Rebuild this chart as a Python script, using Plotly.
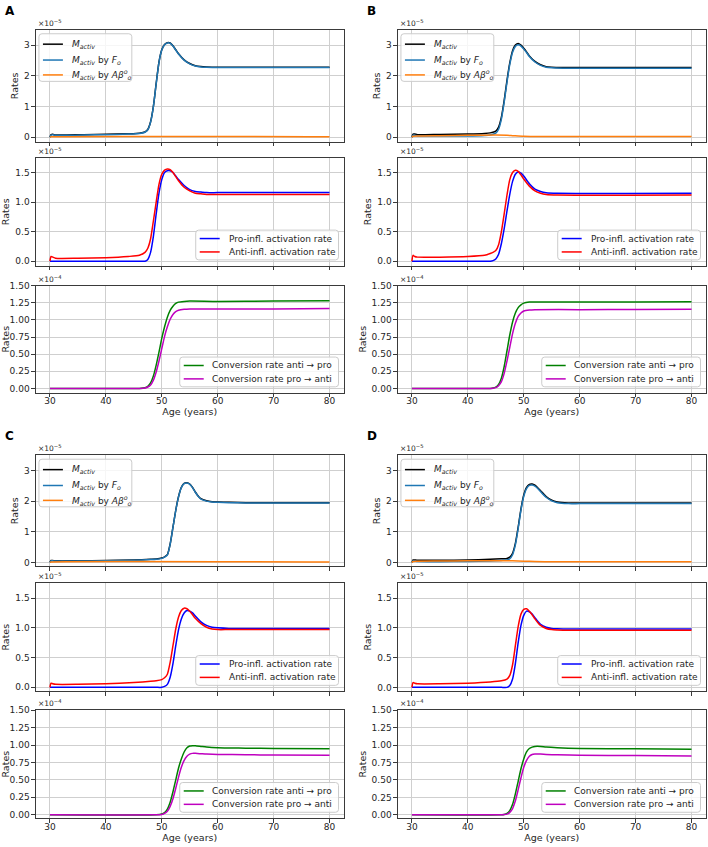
import plotly.graph_objects as go

# ---------------- data (rates in units of 1e-5 for rows 1-2, 1e-4 for row 3) ----------------
AGE_TICKS = [30, 40, 50, 60, 70, 80]

# Panel A
A_t1 = [30, 30.2, 30.5, 31, 33, 36, 40, 44, 46, 47, 47.5, 48, 48.5, 49, 49.5, 50, 50.5, 51, 51.5, 52, 52.5, 53, 54, 55, 56, 57, 58, 60, 65, 70, 80]
A_mact = [0.0, 0.08, 0.09, 0.07, 0.07, 0.08, 0.09, 0.11, 0.13, 0.17, 0.25, 0.5, 1.0, 1.75, 2.45, 2.85, 3.02, 3.08, 3.07, 2.98, 2.85, 2.72, 2.52, 2.40, 2.33, 2.30, 2.29, 2.28, 2.28, 2.28, 2.28]
A_mfo = [0.0, 0.07, 0.08, 0.06, 0.06, 0.07, 0.08, 0.10, 0.12, 0.16, 0.24, 0.49, 0.99, 1.74, 2.44, 2.84, 3.01, 3.07, 3.06, 2.97, 2.84, 2.71, 2.51, 2.39, 2.32, 2.29, 2.28, 2.27, 2.27, 2.27, 2.27]
A_tab = [30, 30.2, 80]
A_mab = [0.0, 0.01, 0.01]
A_t2 = [30, 30.2, 30.5, 31, 35, 40, 44, 46, 47, 47.5, 48, 48.5, 49, 49.5, 50, 50.5, 51, 51.5, 52, 52.5, 53, 54, 55, 56, 57, 58, 60, 80]
A_pro = [0, 0, 0, 0, 0, 0, 0, 0, 0.0, 0.03, 0.15, 0.42, 0.8, 1.15, 1.38, 1.5, 1.53, 1.53, 1.5, 1.44, 1.38, 1.28, 1.21, 1.18, 1.17, 1.16, 1.16, 1.16]
A_anti = [0.0, 0.08, 0.07, 0.05, 0.05, 0.06, 0.08, 0.1, 0.15, 0.22, 0.38, 0.68, 1.0, 1.3, 1.47, 1.54, 1.56, 1.55, 1.5, 1.43, 1.36, 1.25, 1.19, 1.15, 1.14, 1.13, 1.13, 1.13]
A_t3 = [30, 46, 47, 47.5, 48, 48.5, 49, 49.5, 50, 50.5, 51, 51.5, 52, 52.5, 53, 54, 55, 60, 70, 80]
A_a2p = [0, 0, 0.01, 0.03, 0.08, 0.18, 0.34, 0.53, 0.73, 0.9, 1.04, 1.14, 1.2, 1.24, 1.26, 1.27, 1.275, 1.27, 1.275, 1.28]
A_p2a = [0, 0, 0.005, 0.02, 0.05, 0.12, 0.24, 0.4, 0.58, 0.76, 0.9, 1.01, 1.08, 1.12, 1.14, 1.155, 1.16, 1.16, 1.16, 1.165]

# Panel B
B_t1 = [30, 30.2, 30.5, 31, 35, 40, 43, 44, 45, 45.5, 46, 46.5, 47, 47.5, 48, 48.5, 49, 49.5, 50, 50.5, 51, 52, 53, 54, 55, 57, 60, 70, 80]
B_mact = [0, 0.1, 0.1, 0.08, 0.09, 0.1, 0.12, 0.14, 0.2, 0.33, 0.65, 1.2, 1.85, 2.42, 2.82, 3.0, 3.05, 3.0, 2.9, 2.78, 2.65, 2.47, 2.36, 2.3, 2.28, 2.27, 2.27, 2.27, 2.27]
B_mfo = [0, 0.07, 0.065, 0.04, 0.04, 0.04, 0.055, 0.07, 0.13, 0.26, 0.59, 1.14, 1.79, 2.37, 2.77, 2.96, 3.01, 2.97, 2.87, 2.76, 2.63, 2.45, 2.34, 2.28, 2.26, 2.25, 2.25, 2.25, 2.25]
B_tab = [30, 30.2, 31, 35, 40, 45, 47, 48, 50, 55, 80]
B_mab = [0, 0.03, 0.04, 0.05, 0.06, 0.07, 0.06, 0.05, 0.03, 0.02, 0.02]
B_t2 = [30, 30.2, 30.5, 31, 35, 40, 43, 44, 44.5, 45, 45.5, 46, 46.5, 47, 47.5, 48, 48.5, 49, 49.5, 50, 51, 52, 53, 54, 56, 80]
B_pro = [0, 0, 0, 0, 0, 0, 0, 0, 0.01, 0.04, 0.12, 0.3, 0.55, 0.85, 1.13, 1.35, 1.47, 1.51, 1.49, 1.44, 1.31, 1.22, 1.18, 1.16, 1.15, 1.15]
B_anti = [0, 0.1, 0.08, 0.07, 0.07, 0.08, 0.1, 0.13, 0.15, 0.18, 0.28, 0.5, 0.8, 1.12, 1.38, 1.5, 1.54, 1.52, 1.46, 1.39, 1.27, 1.19, 1.15, 1.13, 1.12, 1.12]
B_t3 = [30, 44, 44.5, 45, 45.5, 46, 46.5, 47, 47.5, 48, 48.5, 49, 49.5, 50, 51, 52, 60, 70, 80]
B_a2p = [0, 0, 0.005, 0.02, 0.06, 0.15, 0.32, 0.55, 0.78, 0.97, 1.1, 1.18, 1.22, 1.245, 1.26, 1.262, 1.26, 1.262, 1.265]
B_p2a = [0, 0, 0.003, 0.012, 0.04, 0.1, 0.22, 0.4, 0.6, 0.8, 0.95, 1.05, 1.1, 1.13, 1.145, 1.15, 1.15, 1.152, 1.155]

# Panel C
C_t1 = [30, 30.2, 30.5, 31, 35, 40, 45, 48, 49, 50, 50.5, 51, 51.5, 52, 52.5, 53, 53.5, 54, 54.5, 55, 55.5, 56, 56.5, 57, 58, 59, 60, 62, 65, 70, 80]
C_mact = [0, 0.06, 0.06, 0.05, 0.05, 0.06, 0.08, 0.1, 0.11, 0.14, 0.18, 0.25, 0.6, 1.15, 1.7, 2.15, 2.45, 2.58, 2.6, 2.56, 2.45, 2.3, 2.17, 2.08, 2.01, 1.98, 1.97, 1.96, 1.95, 1.95, 1.95]
C_mfo = [0, 0.05, 0.05, 0.04, 0.04, 0.05, 0.07, 0.09, 0.1, 0.13, 0.17, 0.24, 0.59, 1.14, 1.69, 2.14, 2.44, 2.57, 2.59, 2.55, 2.44, 2.29, 2.16, 2.07, 2.0, 1.97, 1.96, 1.95, 1.94, 1.94, 1.94]
C_tab = [30, 30.2, 80]
C_mab = [0.0, 0.01, 0.01]
C_t2 = [30, 30.2, 30.5, 31, 35, 40, 45, 48, 49, 50, 50.5, 51, 51.5, 52, 52.5, 53, 53.5, 54, 54.5, 55, 55.5, 56, 57, 58, 59, 60, 62, 80]
C_pro = [0, 0, 0, 0, 0, 0, 0, 0, 0, 0.0, 0.015, 0.05, 0.17, 0.4, 0.7, 0.97, 1.15, 1.25, 1.29, 1.28, 1.25, 1.2, 1.1, 1.04, 1.01, 1.0, 0.99, 0.99]
C_anti = [0, 0.07, 0.06, 0.05, 0.05, 0.06, 0.08, 0.1, 0.11, 0.13, 0.16, 0.22, 0.42, 0.7, 0.98, 1.18, 1.29, 1.33, 1.32, 1.28, 1.22, 1.16, 1.07, 1.01, 0.98, 0.97, 0.97, 0.97]
C_t3 = [30, 49, 50, 50.5, 51, 51.5, 52, 52.5, 53, 53.5, 54, 54.5, 55, 55.5, 56, 57, 58, 60, 65, 70, 80]
C_a2p = [0, 0, 0.01, 0.03, 0.08, 0.18, 0.33, 0.5, 0.67, 0.8, 0.9, 0.96, 0.985, 0.99, 0.99, 0.98, 0.97, 0.96, 0.955, 0.95, 0.948]
C_p2a = [0, 0, 0.005, 0.02, 0.05, 0.12, 0.23, 0.38, 0.54, 0.68, 0.78, 0.84, 0.87, 0.88, 0.88, 0.875, 0.87, 0.865, 0.86, 0.857, 0.852]

# Panel D
D_t1 = [30, 30.2, 30.5, 31, 35, 40, 44, 46, 47, 47.5, 48, 48.5, 49, 49.5, 50, 50.5, 51, 51.5, 52, 52.5, 53, 54, 55, 56, 58, 60, 80]
D_mact = [0, 0.08, 0.08, 0.07, 0.07, 0.08, 0.1, 0.12, 0.13, 0.17, 0.3, 0.62, 1.15, 1.75, 2.2, 2.45, 2.55, 2.56, 2.52, 2.44, 2.34, 2.15, 2.03, 1.97, 1.94, 1.94, 1.94]
D_mfo = [0, 0.05, 0.045, 0.03, 0.025, 0.03, 0.046, 0.065, 0.077, 0.118, 0.25, 0.572, 1.105, 1.707, 2.16, 2.413, 2.515, 2.528, 2.49, 2.412, 2.313, 2.127, 2.01, 1.95, 1.92, 1.92, 1.92]
D_tab = [30, 30.2, 31, 35, 40, 45, 48, 50, 52, 55, 80]
D_mab = [0, 0.03, 0.04, 0.045, 0.05, 0.055, 0.05, 0.04, 0.03, 0.02, 0.02]
D_t2 = [30, 30.2, 30.5, 31, 35, 40, 44, 46, 47, 47.5, 48, 48.5, 49, 49.5, 50, 50.5, 51, 51.5, 52, 52.5, 53, 54, 55, 56, 58, 80]
D_pro = [0, 0, 0, 0, 0, 0, 0, 0, 0.0, 0.03, 0.14, 0.4, 0.75, 1.04, 1.21, 1.28, 1.27, 1.23, 1.17, 1.11, 1.06, 1.01, 0.99, 0.985, 0.98, 0.98]
D_anti = [0, 0.08, 0.07, 0.06, 0.06, 0.07, 0.09, 0.11, 0.14, 0.2, 0.38, 0.7, 1.02, 1.23, 1.31, 1.32, 1.28, 1.22, 1.15, 1.09, 1.04, 0.99, 0.97, 0.965, 0.96, 0.96]
D_t3 = [30, 46, 46.5, 47, 47.5, 48, 48.5, 49, 49.5, 50, 50.5, 51, 51.5, 52, 53, 54, 56, 60, 70, 80]
D_a2p = [0, 0, 0.005, 0.02, 0.06, 0.15, 0.3, 0.48, 0.66, 0.8, 0.9, 0.95, 0.97, 0.98, 0.98, 0.97, 0.96, 0.95, 0.945, 0.94]
D_p2a = [0, 0, 0.003, 0.01, 0.035, 0.09, 0.2, 0.36, 0.53, 0.68, 0.78, 0.84, 0.865, 0.87, 0.87, 0.865, 0.86, 0.855, 0.848, 0.843]

NAMES_1 = ["<i>M</i><sub><i>activ</i></sub>",
           "<i>M</i><sub><i>activ</i></sub> by <i>F</i><sub><i>o</i></sub>",
           "<i>M</i><sub><i>activ</i></sub> by <i>Aβ</i><sup><i>o</i></sup><sub><i>o</i></sub>"]
NAMES_2 = ["Pro-infl. activation rate", "Anti-infl. activation rate"]
NAMES_3 = ["Conversion rate anti → pro", "Conversion rate pro → anti"]

# ---------------- layout geometry (pixels) ----------------
W, H = 708, 847
FONT = "DejaVu Sans"
TXT = "#262626"
COLX = {"L": (35.0, 343.0), "R": (397.5, 705.5)}
ROWY = {"top": [(25, 138), (154, 263), (283, 391)],
        "bot": [(454, 566), (583, 692), (711, 820)]}

# legend geometry per row: (box width, box height, entry offsets, line start, line end, text start)
LEG = {0: dict(w=93, h=48, dy=[10.5, 26.5, 41.5], l0=4, l1=24, tx=31),
       1: dict(w=143, h=30, dy=[8.5, 22.0], l0=4, l1=24, tx=31),
       2: dict(w=159, h=30, dy=[8.5, 22.0], l0=4, l1=24, tx=30)}

panels = [
    ("A", "L", "top", (A_t1, A_mact, A_mfo, A_tab, A_mab), (A_t2, A_pro, A_anti), (A_t3, A_a2p, A_p2a)),
    ("B", "R", "top", (B_t1, B_mact, B_mfo, B_tab, B_mab), (B_t2, B_pro, B_anti), (B_t3, B_a2p, B_p2a)),
    ("C", "L", "bot", (C_t1, C_mact, C_mfo, C_tab, C_mab), (C_t2, C_pro, C_anti), (C_t3, C_a2p, C_p2a)),
    ("D", "R", "bot", (D_t1, D_mact, D_mfo, D_tab, D_mab), (D_t2, D_pro, D_anti), (D_t3, D_a2p, D_p2a)),
]


def px(x):
    return x / W


def py(y):
    return 1 - y / H


def rounded_box(x0, y0, x1, y1, r=3):
    pts = [
        "M %f,%f" % (px(x0 + r), py(y0)),
        "L %f,%f" % (px(x1 - r), py(y0)),
        "Q %f,%f %f,%f" % (px(x1), py(y0), px(x1), py(y0 + r)),
        "L %f,%f" % (px(x1), py(y1 - r)),
        "Q %f,%f %f,%f" % (px(x1), py(y1), px(x1 - r), py(y1)),
        "L %f,%f" % (px(x0 + r), py(y1)),
        "Q %f,%f %f,%f" % (px(x0), py(y1), px(x0), py(y1 - r)),
        "L %f,%f" % (px(x0), py(y0 + r)),
        "Q %f,%f %f,%f" % (px(x0), py(y0), px(x0 + r), py(y0)),
        "Z",
    ]
    return " ".join(pts)


fig = go.Figure()
annotations = []
shapes = []
layout = {}
n = 0
LW = 1.5

for letter, col, rowset, r1, r2, r3 in panels:
    x0, x1 = COLX[col]
    xdom = [px(x0), px(x1)]
    annotations.append(dict(text="<b>%s</b>" % letter, x=px(x0 - 33), y=py(ROWY[rowset][0][0] - 19),
                            xref="paper", yref="paper", xanchor="left", yanchor="middle",
                            showarrow=False, font=dict(size=12, family=FONT, color="black")))
    for r in range(3):
        n += 1
        top_px, bot_px = ROWY[rowset][r]
        ydom = [py(bot_px), py(top_px)]
        xa = "x" if n == 1 else "x%d" % n
        ya = "y" if n == 1 else "y%d" % n
        if r == 0:
            t1, mact, mfo, tab, mab = r1
            series = [(t1, mact, "black", NAMES_1[0]), (t1, mfo, "#1f77b4", NAMES_1[1]), (tab, mab, "#ff7f0e", NAMES_1[2])]
            ytop, tv, tf, expo = 3.5, [0, 1, 2, 3], "d", "−5"
        elif r == 1:
            t2, pro, anti = r2
            series = [(t2, pro, "#0000ff", NAMES_2[0]), (t2, anti, "#ff0000", NAMES_2[1])]
            ytop, tv, tf, expo = 1.75, [0, 0.5, 1.0, 1.5], ".1f", "−5"
        else:
            t3, a2p, p2a = r3
            series = [(t3, a2p, "#008000", NAMES_3[0]), (t3, p2a, "#bf00bf", NAMES_3[1])]
            ytop, tv, tf, expo = 1.5, [0, 0.25, 0.5, 0.75, 1.0, 1.25, 1.5], ".2f", "−4"
        ymax = max(max(s[1]) for s in series)
        for t, v, c, name in series:
            fig.add_trace(go.Scatter(x=t, y=v, mode="lines", name=name, xaxis=xa, yaxis=ya,
                                     line=dict(color=c, width=LW, shape="spline", smoothing=0.6),
                                     showlegend=False, hoverinfo="skip"))
        axcommon = dict(showgrid=True, gridcolor="#cfcfcf", gridwidth=1, zeroline=False,
                        showline=True, mirror=True, linecolor="#3a3a3a", linewidth=1,
                        ticks="outside", ticklen=3.5, tickwidth=1, tickcolor="#3a3a3a",
                        tickfont=dict(size=9, family=FONT, color=TXT))
        layout["xaxis" if n == 1 else "xaxis%d" % n] = dict(
            domain=xdom, range=[27.5, 82.5], tickvals=AGE_TICKS, anchor=ya,
            showticklabels=(r == 2), ticklabelstandoff=-4,
            title=dict(text="Age (years)", font=dict(size=9.5, family=FONT, color=TXT), standoff=1) if r == 2 else None,
            **axcommon)
        layout["yaxis" if n == 1 else "yaxis%d" % n] = dict(
            domain=ydom, range=[-0.05 * ymax, ytop], tickvals=tv, tickformat=tf, anchor=xa,
            title=dict(text="Rates", font=dict(size=9.5, family=FONT, color=TXT), standoff=3),
            **axcommon)
        annotations.append(dict(text="×10<sup>%s</sup>" % expo, x=xdom[0], y=ydom[1],
                                xref="paper", yref="paper", xanchor="left", yanchor="bottom",
                                showarrow=False, font=dict(size=7.5, family=FONT, color=TXT)))
        # hand-drawn legend box (matplotlib style)
        g = LEG[r]
        if r == 0:
            bx0, by0 = x0 + 3, top_px + 4
        else:
            bx0, by0 = x1 - 5 - g["w"], bot_px - 6 - g["h"]
        shapes.append(dict(type="path", path=rounded_box(bx0, by0, bx0 + g["w"], by0 + g["h"]),
                           xref="paper", yref="paper", layer="above",
                           fillcolor="rgba(255,255,255,0.8)", line=dict(color="#cccccc", width=1)))
        for (t, v, c, name), dy in zip(series, g["dy"]):
            yy = py(by0 + dy)
            shapes.append(dict(type="line", xref="paper", yref="paper", layer="above",
                               x0=px(bx0 + g["l0"]), x1=px(bx0 + g["l1"]), y0=yy, y1=yy,
                               line=dict(color=c, width=LW)))
            annotations.append(dict(text=name, x=px(bx0 + g["tx"]), y=yy, xref="paper", yref="paper",
                                    xanchor="left", yanchor="middle", showarrow=False,
                                    font=dict(size=9, family=FONT, color=TXT)))

fig.update_layout(width=W, height=H, margin=dict(l=0, r=0, t=0, b=0),
                  paper_bgcolor="white", plot_bgcolor="white",
                  font=dict(family=FONT, size=9, color=TXT),
                  showlegend=False, annotations=annotations, shapes=shapes, **layout)
fig.write_html("out.html", config={"displayModeBar": False},
               post_script="document.body.style.margin='0px';")
